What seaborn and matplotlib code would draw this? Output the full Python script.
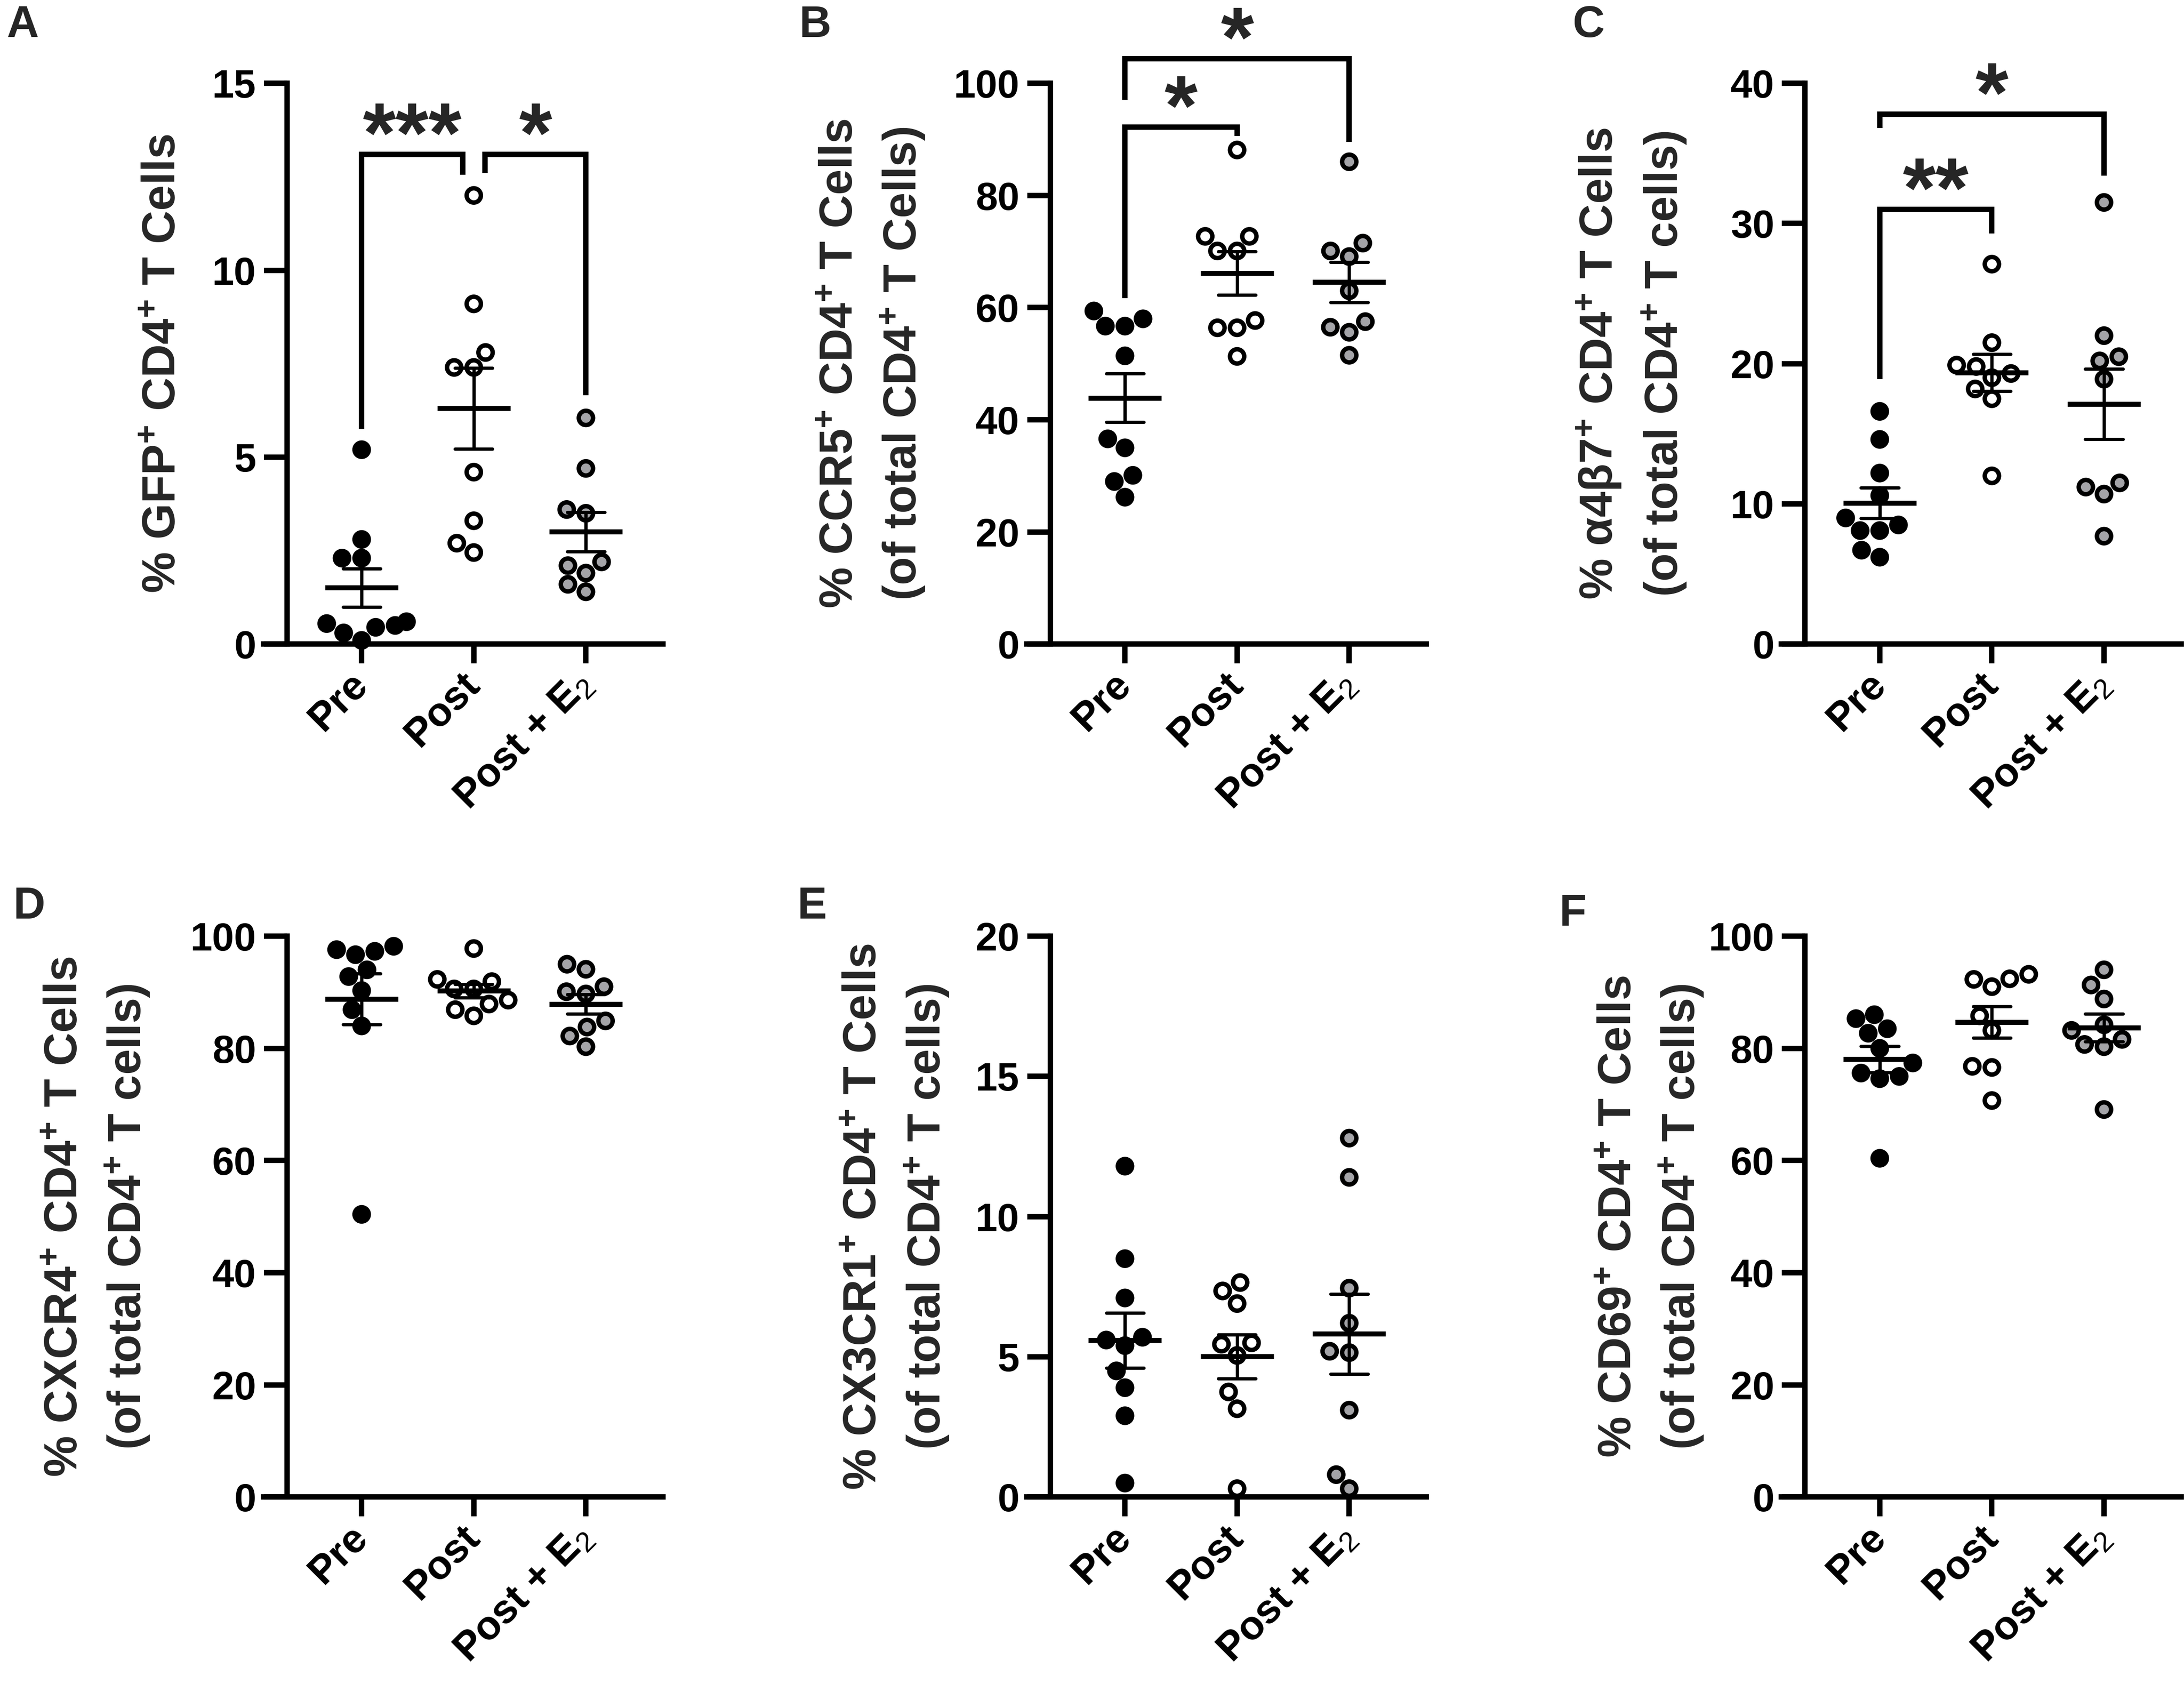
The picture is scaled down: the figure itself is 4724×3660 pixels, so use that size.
"""Six-panel scatter of CD4+ T cell markers before/after treatment, mean +/- SEM."""

import matplotlib

matplotlib.use("Agg")
import matplotlib.pyplot as plt
import numpy as np
import pandas as pd
import seaborn as sns

GROUPS = ["Pre", "Post", r"Post + E$_{\mathrm{2}}$"]
GROUP_COLORS = ["black", "white", "#a4a4a8"]

# A: % GFP+ CD4+ T cells
GFP_PRE = [5.2, 2.8, 2.3, 2.3, 0.6, 0.55, 0.45, 0.5, 0.3, 0.1]
GFP_POST = [12.0, 9.1, 7.8, 7.4, 7.4, 4.6, 3.3, 2.7, 2.45]
GFP_E2 = [6.05, 4.7, 3.5, 3.6, 2.2, 1.9, 2.1, 1.6, 1.4]

# B: % CCR5+
CCR5_PRE = [58.0, 59.4, 56.7, 56.7, 51.4, 36.6, 35.0, 30.1, 29.0, 26.2]
CCR5_POST = [88.1, 72.7, 72.7, 70.1, 70.1, 57.7, 56.4, 56.4, 51.3]
CCR5_E2 = [86.0, 71.5, 70.1, 69.1, 63.0, 57.5, 56.5, 55.6, 51.5]

# C: % a4b7+
A4B7_PRE = [16.6, 14.6, 12.2, 10.6, 9.0, 8.5, 8.1, 8.1, 6.7, 6.2]
A4B7_POST = [27.1, 21.5, 19.9, 19.8, 19.3, 19.0, 18.2, 17.5, 12.0]
A4B7_E2 = [31.5, 22.0, 20.5, 20.2, 18.9, 11.5, 11.2, 10.7, 7.7]

# D: % CXCR4+
CXCR4_PRE = [98.2, 97.6, 97.3, 96.7, 94.0, 92.8, 90.3, 86.9, 84.0, 50.4]
CXCR4_POST = [97.8, 92.3, 91.9, 90.6, 90.6, 88.6, 87.9, 86.9, 85.8]
CXCR4_E2 = [95.0, 94.1, 91.0, 90.1, 89.7, 84.9, 83.8, 82.2, 80.3]

# E: % CX3CR1+
CX3CR1_PRE = [11.8, 8.5, 7.1, 5.7, 5.6, 5.4, 4.5, 3.9, 2.9, 0.5]
CX3CR1_POST = [7.65, 7.35, 6.9, 5.5, 5.45, 5.05, 3.75, 3.15, 0.3]
CX3CR1_E2 = [12.8, 11.4, 7.45, 6.2, 5.2, 5.15, 3.1, 0.8, 0.3]

# F: % CD69+
CD69_PRE = [86.0, 85.3, 83.5, 82.7, 80.0, 77.4, 75.6, 75.0, 74.6, 60.4]
CD69_POST = [93.2, 92.4, 92.3, 91.0, 85.8, 83.2, 76.8, 76.6, 70.7]
CD69_E2 = [94.0, 91.3, 88.8, 84.2, 83.2, 81.6, 80.7, 80.3, 69.1]

PLUS = r"$^{\mathbf{+}}$"
SECOND_LINE = "(of total CD4" + PLUS + " T cells)"

Y_LABELS = {
    "A": "% GFP" + PLUS + " CD4" + PLUS + " T Cells",
    "B": "% CCR5" + PLUS + " CD4" + PLUS + " T Cells\n(of total CD4" + PLUS + " T Cells)",
    "C": "% α4β7" + PLUS + " CD4" + PLUS + " T Cells\n" + SECOND_LINE,
    "D": "% CXCR4" + PLUS + " CD4" + PLUS + " T Cells\n" + SECOND_LINE,
    "E": "% CX3CR1" + PLUS + " CD4" + PLUS + " T Cells\n" + SECOND_LINE,
    "F": "% CD69" + PLUS + " CD4" + PLUS + " T Cells\n" + SECOND_LINE,
}
Y_TICKS = {
    "A": [0, 5, 10, 15],
    "B": [0, 20, 40, 60, 80, 100],
    "C": [0, 10, 20, 30, 40],
    "D": [0, 20, 40, 60, 80, 100],
    "E": [0, 5, 10, 15, 20],
    "F": [0, 20, 40, 60, 80, 100],
}
# significance brackets: (x_left, x_right, y_top, y_left_leg, y_right_leg, stars)
BRACKETS = {
    "A": [(0, 0.9, 13.1, 5.75, 12.55, "***"), (1.1, 2, 13.1, 12.6, 6.65, "*")],
    "B": [(0, 1, 92.2, 61.7, 90.6, "*"), (0, 2, 104.4, 97.0, 89.5, "*")],
    "C": [(0, 1, 31.0, 18.9, 29.3, "**"), (0, 2, 37.8, 36.8, 33.4, "*")],
}

# layout (figure fractions)
COL_LEFTS = [0.1314, 0.4809, 0.8265]
ROW_BOTTOMS = [0.6193, 0.1152]
AX_W, AX_H = 0.1722, 0.3315
X_LIM = (-0.666, 2.688)
LABEL_X = {"A": -0.33, "B": -0.472, "C": -0.461, "D": -0.504, "E": -0.409, "F": -0.409}
LETTER_POS = {
    "A": (0.003, 0.985), "B": (0.366, 0.985), "C": (0.720, 0.985),
    "D": (0.006, 0.464), "E": (0.365, 0.464), "F": (0.714, 0.460),
}

LINE_W = 2.8


def build_frame(pre, post, e2):
    """Long-format table for one panel."""
    values = list(pre) + list(post) + list(e2)
    groups = [GROUPS[0]] * len(pre) + [GROUPS[1]] * len(post) + [GROUPS[2]] * len(e2)
    return pd.DataFrame({"group": groups, "value": values})


def draw_panel(ax, letter, frame):
    sns.swarmplot(
        data=frame, x="group", y="value", hue="group", order=GROUPS,
        hue_order=GROUPS, palette=GROUP_COLORS, size=7.4, edgecolor="black",
        linewidth=2.3, legend=False, ax=ax, zorder=2,
    )
    sns.pointplot(
        data=frame, x="group", y="value", order=GROUPS, errorbar="se",
        color="black", marker="_", markersize=38, markeredgewidth=2.6,
        linestyle="none", capsize=0.335, err_kws={"linewidth": 1.7},
        ax=ax, zorder=4,
    )
    for coll in ax.collections:
        coll.set_clip_on(False)
    for line in ax.lines:
        line.set_clip_on(False)

    ticks = Y_TICKS[letter]
    ax.set_xlim(*X_LIM)
    ax.set_ylim(ticks[0], ticks[-1])
    ax.set_yticks(ticks)
    ax.set_xlabel("")
    ax.set_ylabel(Y_LABELS[letter], fontsize=24, fontweight="bold", linespacing=1.45)
    ax.yaxis.set_label_coords(LABEL_X[letter], 0.5)
    ax.yaxis.label.set_va("center")

    sns.despine(ax=ax)
    ax.spines["left"].set_linewidth(LINE_W)
    ax.spines["bottom"].set_linewidth(LINE_W)
    ax.spines["bottom"].set_bounds(X_LIM[0] - 0.21, X_LIM[1])
    ax.tick_params(axis="y", length=12, width=LINE_W, pad=4, labelsize=20.5)
    ax.tick_params(axis="x", length=10, width=LINE_W, pad=8, labelsize=21)
    for lab in ax.get_yticklabels():
        lab.set_fontweight("bold")
    for lab in ax.get_xticklabels():
        lab.set_fontweight("bold")
        lab.set_rotation(45)
        lab.set_ha("right")
        lab.set_va("center")
        lab.set_rotation_mode("anchor")

    for x1, x2, top, y_l, y_r, stars in BRACKETS.get(letter, []):
        ax.plot([x1, x1, x2, x2], [y_l, top, top, y_r], color="black", lw=LINE_W,
                clip_on=False, solid_joinstyle="miter", solid_capstyle="butt", zorder=5)
        ax.annotate(stars, xy=((x1 + x2) / 2, top), xytext=(0, -4),
                    textcoords="offset points", ha="center", va="baseline",
                    fontsize=44, fontweight="bold", annotation_clip=False)


def main():
    sns.set_theme(style="ticks")
    plt.rcParams["font.family"] = ["Liberation Sans", "DejaVu Sans"]
    plt.rcParams["mathtext.fontset"] = "custom"
    plt.rcParams["mathtext.rm"] = "Liberation Sans"
    plt.rcParams["mathtext.bf"] = "Liberation Sans:bold"
    plt.rcParams["mathtext.it"] = "Liberation Sans:italic"
    plt.rcParams["axes.edgecolor"] = "black"
    plt.rcParams["xtick.color"] = "black"
    plt.rcParams["ytick.color"] = "black"

    panels = {
        "A": build_frame(GFP_PRE, GFP_POST, GFP_E2),
        "B": build_frame(CCR5_PRE, CCR5_POST, CCR5_E2),
        "C": build_frame(A4B7_PRE, A4B7_POST, A4B7_E2),
        "D": build_frame(CXCR4_PRE, CXCR4_POST, CXCR4_E2),
        "E": build_frame(CX3CR1_PRE, CX3CR1_POST, CX3CR1_E2),
        "F": build_frame(CD69_PRE, CD69_POST, CD69_E2),
    }

    fig = plt.figure(figsize=(4724 / 300, 3660 / 300), dpi=300)
    for i, letter in enumerate("ABCDEF"):
        row, col = divmod(i, 3)
        ax = fig.add_axes([COL_LEFTS[col], ROW_BOTTOMS[row], AX_W, AX_H])
        ax.set_facecolor("none")
        draw_panel(ax, letter, panels[letter])
        fx, fy = LETTER_POS[letter]
        fig.text(fx, fy, letter, fontsize=23, fontweight="bold", ha="left", va="center")

    fig.savefig("out.png", dpi=300, facecolor="white")
    plt.close(fig)


if __name__ == "__main__":
    main()
